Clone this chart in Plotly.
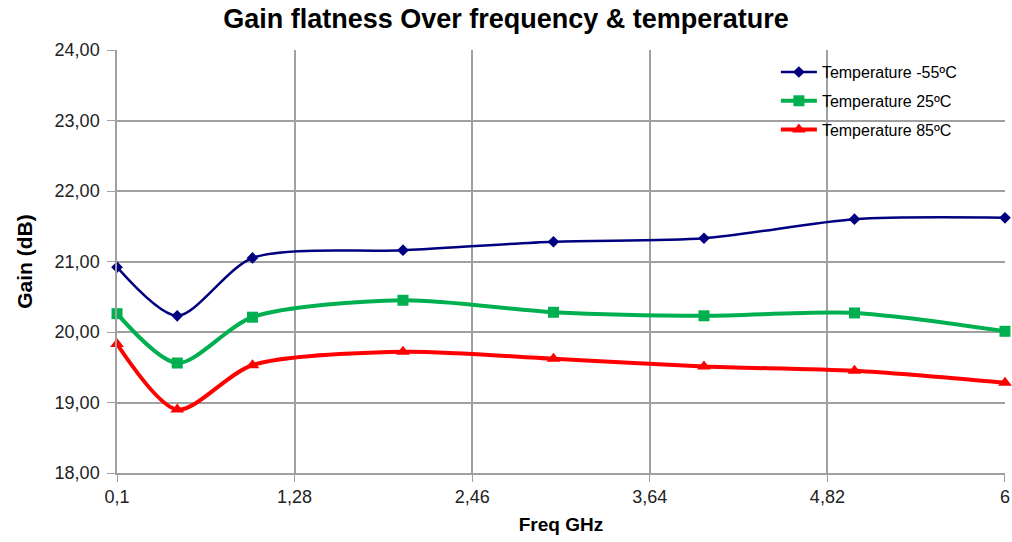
import plotly.graph_objects as go

freq = [0.1, 0.5, 1, 2, 3, 4, 5, 6]
gain_m55 = [20.92, 20.23, 21.05, 21.16, 21.28, 21.33, 21.60, 21.62]
gain_25 = [20.26, 19.56, 20.21, 20.45, 20.28, 20.23, 20.27, 20.01]
gain_85 = [19.83, 18.90, 19.53, 19.72, 19.62, 19.51, 19.45, 19.28]
x_ticks = [0.1, 1.28, 2.46, 3.64, 4.82, 6]
x_tick_labels = ["0,1", "1,28", "2,46", "3,64", "4,82", "6"]
y_ticks = [18, 19, 20, 21, 22, 23, 24]
y_tick_labels = ["18,00", "19,00", "20,00", "21,00", "22,00", "23,00", "24,00"]

fig = go.Figure()
fig.add_trace(go.Scatter(x=freq, y=gain_m55, name="Temperature -55ºC", mode="lines+markers",
                         legendgroup="a", cliponaxis=False,
                         line=dict(color="#000080", width=2.5, shape="spline", smoothing=0.8),
                         marker=dict(symbol="diamond", size=9, color="#000080")))
fig.add_trace(go.Scatter(x=freq, y=gain_25, name="Temperature 25ºC", mode="lines+markers",
                         legendgroup="b", cliponaxis=False,
                         line=dict(color="#00B050", width=4, shape="spline", smoothing=0.8),
                         marker=dict(symbol="square", size=11, color="#00B050")))
fig.add_trace(go.Scatter(x=freq, y=gain_85, name="Temperature 85ºC", mode="lines+markers",
                         legendgroup="c", cliponaxis=False,
                         line=dict(color="#FF0000", width=4, shape="spline", smoothing=0.8),
                         marker=dict(symbol="triangle-up", size=12, color="#FF0000")))

fig.update_layout(
    width=1012, height=542,
    margin=dict(l=117, r=7, t=50, b=69, autoexpand=False),
    paper_bgcolor="white", plot_bgcolor="white",
    font=dict(family="Liberation Sans, Arial, sans-serif", color="#222222", size=18),
    title=dict(text="<b>Gain flatness Over frequency & temperature</b>", x=0.5, xanchor="center",
               y=0.965, yanchor="middle", font=dict(size=27, color="#000000")),
    legend=dict(x=0.742, y=0.988, xanchor="left", yanchor="top", bgcolor="rgba(0,0,0,0)",
                font=dict(size=16, color="#000000"), itemwidth=36, tracegroupgap=5),
    showlegend=True,
)
fig.update_xaxes(range=[0.0999, 6.0001], tickvals=x_ticks, ticktext=x_tick_labels,
                 automargin=False,
                 showgrid=True, gridcolor="#A0A0A0", gridwidth=1.5,
                 showline=True, linecolor="#A0A0A0", linewidth=1.5,
                 ticks="outside", ticklen=7, tickcolor="#A0A0A0",
                 title=dict(text="<b>Freq GHz</b>", font=dict(size=19, color="#000000"), standoff=11),
                 zeroline=False)
fig.update_yaxes(range=[18, 24], tickvals=y_ticks, ticktext=y_tick_labels,
                 automargin=False, ticklabelstandoff=4,
                 showgrid=True, gridcolor="#A0A0A0", gridwidth=1.5,
                 showline=True, linecolor="#A0A0A0", linewidth=1.5,
                 ticks="outside", ticklen=8, tickcolor="#A0A0A0",
                 title=dict(text="<b>Gain (dB)</b>", font=dict(size=21, color="#000000"), standoff=16),
                 zeroline=False)

fig.write_html("out.html", config={"displayModeBar": False},
               post_script="document.body.style.margin='0';document.body.style.padding='0';")
